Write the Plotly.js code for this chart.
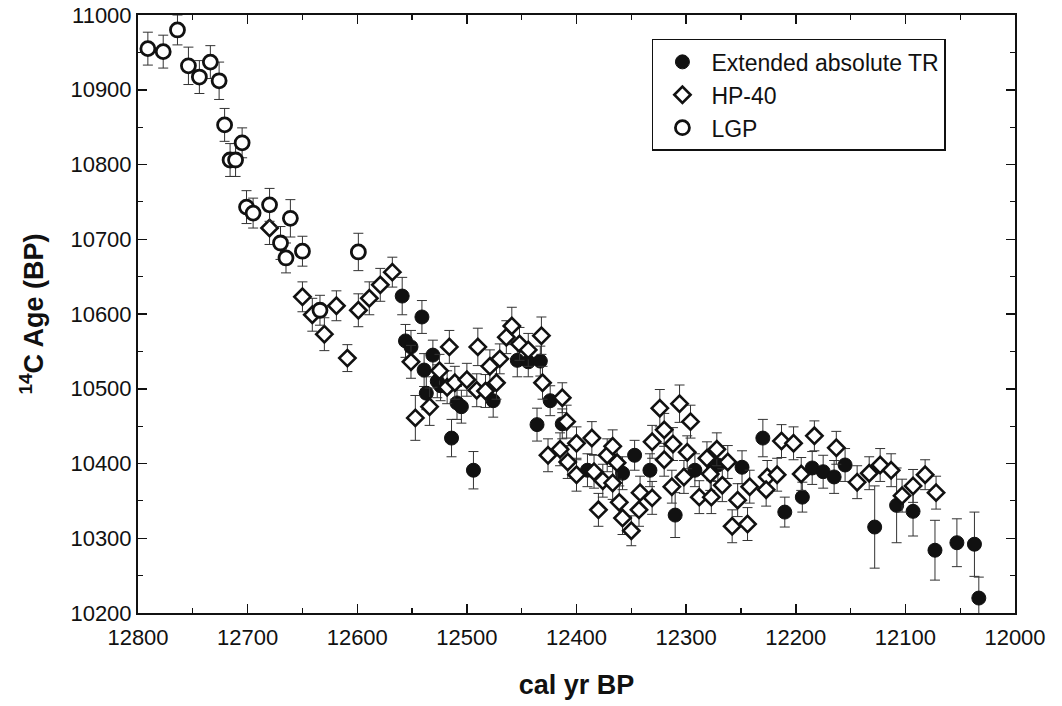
<!DOCTYPE html>
<html><head><meta charset="utf-8">
<script src="https://cdn.plot.ly/plotly-3.0.1.min.js"></script>
<style>body{margin:0;background:#fff}</style>
</head><body><div id="chart" style="width:1062px;height:706px"></div>
<script>
// Extended absolute TR (filled circles)
const trX=[12559,12556,12551,12541,12539,12531,12527,12537,12524,12514,12509,12505,12494,12476,12454,12444,12433,12436,12424,12413,12390,12358,12347,12333,12310,12292,12271,12249,12230,12210,12194,12185,12175,12165,12155,12128,12108,12093,12073,12053,12037,12033];
const trY=[10624,10564,10556,10596,10525,10545,10510,10494,10504,10434,10481,10476,10391,10484,10538,10536,10537,10452,10484,10453,10391,10387,10411,10391,10331,10391,10398,10395,10434,10335,10355,10394,10389,10382,10398,10315,10344,10336,10284,10294,10292,10220];
const trErr=[25,22,22,22,22,20,22,22,20,25,22,22,25,22,22,20,20,22,20,20,22,22,20,22,30,22,22,22,25,20,20,22,22,22,22,55,50,33,40,32,43,28];

// HP-40 (open diamonds)
const hpX=[12680,12650,12641,12630,12619,12609,12599,12589,12579,12568,
12551,12547,12534,12525,12518,12516,12511,12500,12490,12491,12483,12479,12473,12470,12464,12459,12452,
12444,12432,12431,12426,12415,12413,12409,12408,12400,12400,12386,12384,12380,12376,12372,12367,12367,12363,12361,12358,12350,12342,12331,12331,12343,
12324,12306,12296,12320,12312,12299,12320,12281,12272,12262,12278,12302,12313,12288,12277,12267,12253,12242,12226,12217,12258,12244,
12213,12202,12183,12163,12227,12195,12144,12133,12123,12113,12103,12093,12082,12072];
const hpY=[10715,10623,10599,10573,10611,10541,10605,10621,10639,10656,
10536,10461,10476,10524,10502,10556,10508,10512,10556,10498,10497,10530,10508,10540,10569,10584,10560,
10552,10571,10508,10411,10419,10488,10456,10402,10427,10385,10434,10389,10338,10377,10411,10423,10374,10401,10348,10327,10310,10361,10354,10429,10338,
10474,10480,10456,10445,10426,10415,10405,10407,10419,10402,10386,10382,10369,10355,10355,10371,10351,10369,10382,10385,10316,10319,
10430,10427,10437,10421,10365,10386,10375,10387,10398,10391,10357,10370,10385,10361];
const hpErr=[22,20,22,22,20,18,22,22,22,20,
22,30,25,22,22,22,22,22,25,22,22,22,22,20,22,25,22,
22,25,22,22,22,20,22,22,22,22,22,22,22,22,22,22,22,22,22,22,20,22,22,22,22,
25,25,22,22,22,22,22,22,22,22,22,22,22,22,22,22,22,22,22,22,22,22,
22,22,20,22,22,22,22,22,22,22,22,22,20,22];

// LGP (open circles)
const lgpX=[12791,12777,12764,12754,12744,12734,12726,12721,12716,12711,12705,12701,12695,12680,12670,12665,12661,12650,12634,12599];
const lgpY=[10955,10951,10980,10932,10917,10937,10912,10853,10806,10806,10829,10743,10735,10746,10695,10675,10728,10684,10605,10683];
const lgpErr=[22,22,20,25,22,22,25,22,22,22,20,22,20,22,22,20,25,20,20,25];

const xTicks=[12800,12700,12600,12500,12400,12300,12200,12100,12000];
const yTicks=[10200,10300,10400,10500,10600,10700,10800,10900,11000];

const FONT='"Liberation Sans", Arial, sans-serif';
function eb(arr){return {type:'data',array:arr,visible:true,color:'#333',thickness:1,width:5};}

const traces=[
 {x:trX,y:trY,error_y:eb(trErr),type:'scatter',mode:'markers',name:'Extended absolute TR',
  marker:{symbol:'circle',size:14,color:'#111',line:{color:'#111',width:1}}},
 {x:hpX,y:hpY,error_y:eb(hpErr),type:'scatter',mode:'markers',name:'HP-40',
  marker:{symbol:'diamond',size:12.5,color:'#fff',line:{color:'#111',width:2.6}}},
 {x:lgpX,y:lgpY,error_y:eb(lgpErr),type:'scatter',mode:'markers',name:'LGP',
  marker:{symbol:'circle',size:14,color:'#fff',line:{color:'#111',width:2.8}}}
];

const axisCommon={showgrid:false,zeroline:false,showline:true,linecolor:'#111',linewidth:2,mirror:'ticks',
 ticks:'inside',ticklen:9,tickwidth:1.5,tickcolor:'#111',
 tickfont:{family:FONT,size:22,color:'#111'},
 minor:{ticks:'inside',ticklen:5,tickwidth:1.2,tickcolor:'#111',dtick:50}};

const layout={
 width:1062,height:706,
 margin:{l:138,r:47,t:15,b:93},
 paper_bgcolor:'#fff',plot_bgcolor:'#fff',
 showlegend:true,
 legend:{x:0.586,y:0.96,xanchor:'left',yanchor:'top',bordercolor:'#111',borderwidth:1.5,bgcolor:'#fff',
   font:{family:FONT,size:23,color:'#111'},itemwidth:48},
 xaxis:Object.assign({},axisCommon,{range:[12800,12000],tickvals:xTicks,ticktext:xTicks.map(String),
   ticklabelstandoff:4,
   title:{text:'<b>cal yr BP</b>',font:{family:FONT,size:27,color:'#111'},standoff:26}}),
 yaxis:Object.assign({},axisCommon,{range:[10200,11000],tickvals:yTicks,ticktext:yTicks.map(String),
   title:{text:'<b><sup>14</sup>C Age (BP)</b>',font:{family:FONT,size:27,color:'#111'},standoff:19}})
};
Plotly.newPlot('chart',traces,layout,{displayModeBar:false,staticPlot:true});
</script></body></html>
